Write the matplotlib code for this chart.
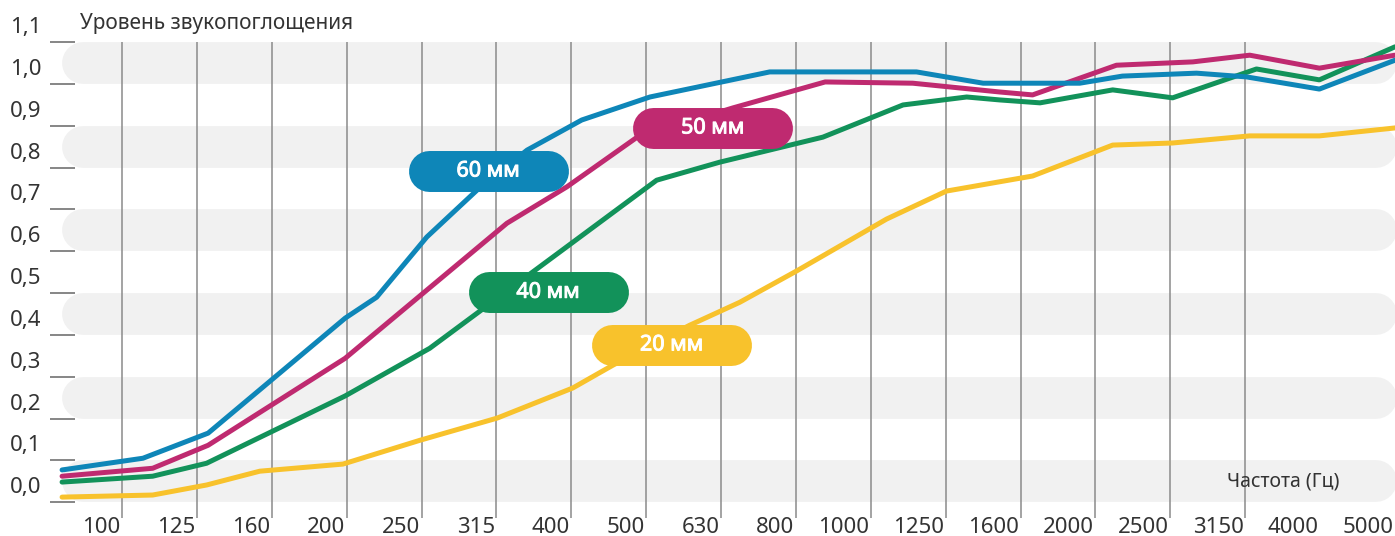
import matplotlib.pyplot as plt
import matplotlib.patheffects as pe

plt.rcParams['font.family'] = ['Noto Sans', 'DejaVu Sans']

# Frequency bands (Hz) on the x axis
freq_labels = ['100', '125', '160', '200', '250', '315', '400', '500', '630',
               '800', '1000', '1250', '1600', '2000', '2500', '3150', '4000', '5000']

# Absorption levels on the y axis
y_levels = [0.0, 0.1, 0.2, 0.3, 0.4, 0.5, 0.6, 0.7, 0.8, 0.9, 1.0, 1.1]
y_labels = ['0,0', '0,1', '0,2', '0,3', '0,4', '0,5', '0,6', '0,7', '0,8', '0,9', '1,0', '1,1']

# Curves: x is position in frequency-band units (0 = 100 Hz line)
x_60 = [-0.80, 0.28, 1.15, 2.98, 3.40, 4.07, 4.74, 5.41, 6.14, 7.05, 8.65,
        10.61, 11.50, 12.79, 13.36, 14.35, 15.02, 15.99, 17.00]
y_60 = [0.077, 0.105, 0.165, 0.440, 0.490, 0.634, 0.746, 0.842, 0.914, 0.969, 1.029,
        1.029, 1.002, 1.002, 1.019, 1.026, 1.017, 0.988, 1.057]

x_50 = [-0.80, 0.41, 1.15, 2.98, 5.14, 5.94, 6.88, 8.16, 9.39, 10.56, 11.72,
        12.16, 13.28, 14.30, 15.06, 15.99, 17.00]
y_50 = [0.062, 0.081, 0.136, 0.344, 0.667, 0.754, 0.873, 0.943, 1.005, 1.002, 0.981,
        0.974, 1.045, 1.053, 1.069, 1.038, 1.069]

x_40 = [-0.80, 0.41, 1.13, 2.98, 4.11, 7.14, 7.98, 9.36, 10.43, 11.28, 11.72,
        12.26, 13.23, 14.03, 15.15, 15.99, 17.00]
y_40 = [0.048, 0.062, 0.093, 0.254, 0.368, 0.770, 0.813, 0.873, 0.950, 0.969, 0.962,
        0.955, 0.986, 0.967, 1.036, 1.010, 1.089]

x_20 = [-0.80, 0.41, 1.13, 1.84, 2.95, 3.98, 5.01, 6.02, 6.56, 7.58, 8.25, 9.01,
        10.21, 11.01, 12.16, 13.23, 14.03, 15.06, 15.99, 17.00]
y_20 = [0.012, 0.017, 0.041, 0.074, 0.091, 0.148, 0.201, 0.273, 0.328, 0.423, 0.478, 0.553,
        0.677, 0.744, 0.780, 0.854, 0.859, 0.876, 0.876, 0.895]

names = ['60 мм', '50 мм', '40 мм', '20 мм']
colors = ['#0e86b8', '#bf2a70', '#12925a', '#f8c22c']

text_color = '#333333'

fig = plt.figure(figsize=(13.95, 5.36), dpi=100)
ax = fig.add_axes([0, 0, 1, 1])
ax.set_xlim(-1.629, 17.0)
ax.set_ylim(-0.081, 1.201)
ax.axis('off')

# alternating grey bands with rounded ends
for lo in y_levels[0:11:2]:
    ax.plot([-0.52, 16.75], [lo + 0.05, lo + 0.05], lw=30.1, color='#f1f1f1',
            solid_capstyle='round', zorder=0)

# vertical band separators
ax.vlines(range(len(freq_labels) - 2), -0.038, 1.1, color='#8a8a8a', lw=1.1, zorder=1)

# y tick marks + labels
ax.hlines(y_levels, -0.961, -0.628, color='#666666', lw=1.1, zorder=1)
for v, lab in zip(y_levels, y_labels):
    ax.text(-1.495, v + 0.0215, lab, fontsize=16, color=text_color, va='baseline', ha='left')

# x tick labels, right aligned to the lines
for i, lab in enumerate(freq_labels):
    ax.text(i - 0.02, -0.074, lab, fontsize=16, color=text_color, va='baseline', ha='right')

ax.text(-0.561, 1.1316, 'Уровень звукопоглощения', fontsize=15, color=text_color,
        va='baseline', ha='left')
ax.text(16.26, 0.038, 'Частота (Гц)', fontsize=14, color=text_color,
        va='baseline', ha='right')

# curves
for xs, ys, c in zip([x_20, x_40, x_50, x_60], [y_20, y_40, y_50, y_60], colors[::-1]):
    ax.plot(xs, ys, color=c, lw=3.6, solid_capstyle='round', solid_joinstyle='round', zorder=3)

# pill labels
pill_centers = [(4.89, 0.792), (7.89, 0.895), (5.69, 0.502), (7.34, 0.376)]
for (cx, cy), name, c in zip(pill_centers, names, colors):
    ax.plot([cx - 0.794, cx + 0.794], [cy, cy], lw=29.5, color=c,
            solid_capstyle='round', zorder=5)
    ax.text(cx, cy, name, color='white', fontsize=15.5,
            ha='center', va='center', zorder=6,
            path_effects=[pe.withStroke(linewidth=0.7, foreground='white')])

plt.savefig('out.png', dpi=100)
